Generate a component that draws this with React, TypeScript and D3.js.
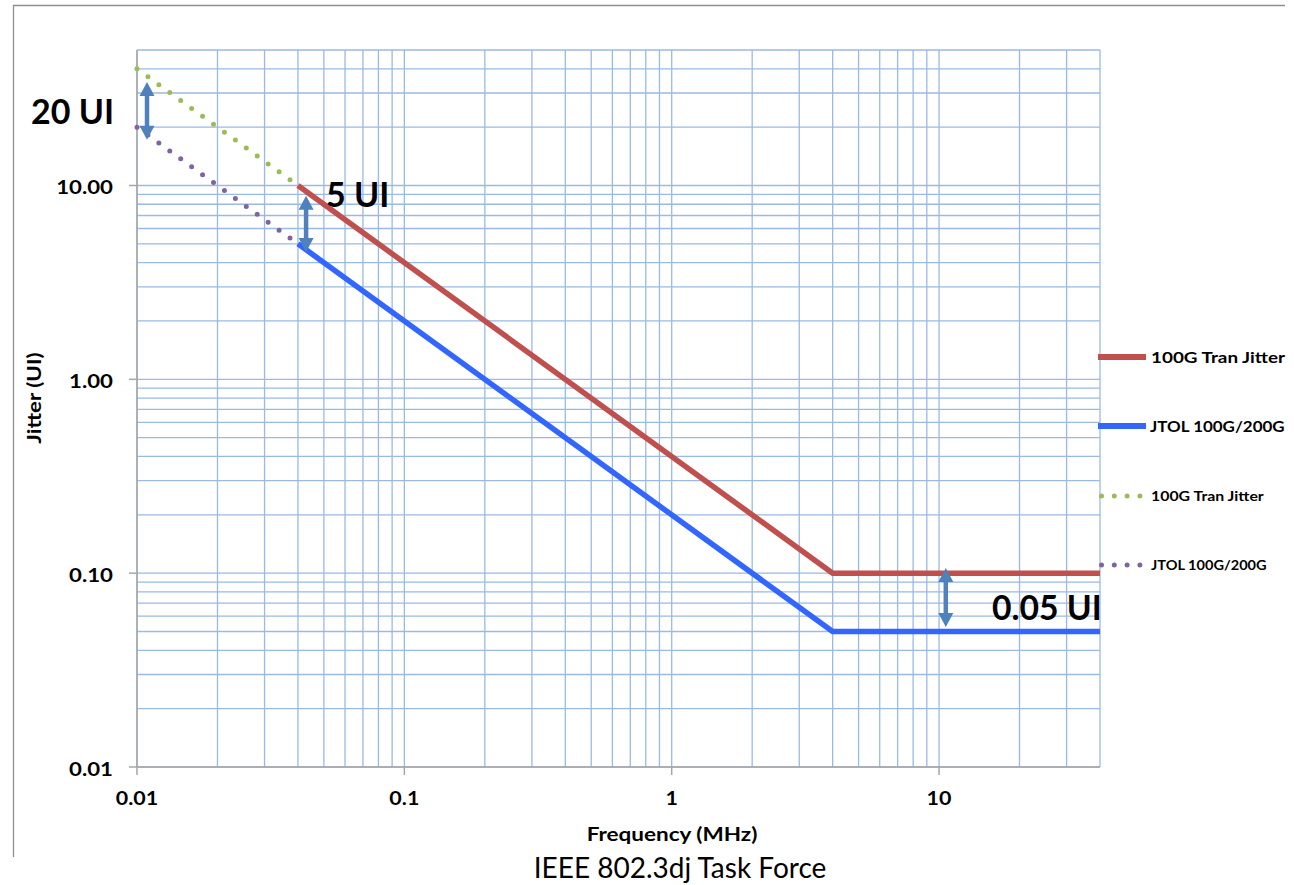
import React from 'react';
import * as d3 from 'd3';

const W = 1294;
const H = 885;

// Data
const tranJitterFreq = [0.04, 4, 40];
const tranJitterUI = [10, 0.1, 0.1];
const jtolFreq = [0.04, 4, 40];
const jtolUI = [5, 0.05, 0.05];
const tranExtFreq = [0.01, 0.04];
const tranExtUI = [40, 10];
const jtolExtFreq = [0.01, 0.04];
const jtolExtUI = [20, 5];

const xTickValues = [0.01, 0.1, 1, 10];
const xTickLabels = ['0.01', '0.1', '1', '10'];
const yTickValues = [0.01, 0.1, 1, 10];
const yTickLabels = ['0.01', '0.10', '1.00', '10.00'];

const xDomain = [0.01, 40];
const yDomain = [0.01, 50];

const legendLabels = ['100G Tran Jitter', 'JTOL 100G/200G', '100G Tran Jitter', 'JTOL 100G/200G'];

// annotation arrows in data coordinates (freq, top UI, bottom UI)
const arrowFreq = [0.0109, 0.0429, 10.6];
const arrowTop = [34.2, 8.84, 0.1063];
const arrowBottom = [17.2, 4.54, 0.0528];
const annoTexts = ['20 UI', '5 UI', '0.05 UI'];

const RED = '#c0504d';
const BLUE = '#3366ff';
const GREEN = '#9bbb59';
const PURPLE = '#8064a2';
const ARROW = '#4f81bd';
const GRID = '#98bae5';
const FONT = 'Lato, "Open Sans", sans-serif';

function arrowPath(x: number, y1: number, y2: number) {
  const shaft = 4.5, headW = 15, headL = 14;
  const p = d3.path();
  p.moveTo(x, y1);
  p.lineTo(x + headW / 2, y1 + headL);
  p.lineTo(x + shaft / 2, y1 + headL);
  p.lineTo(x + shaft / 2, y2 - headL);
  p.lineTo(x + headW / 2, y2 - headL);
  p.lineTo(x, y2);
  p.lineTo(x - headW / 2, y2 - headL);
  p.lineTo(x - shaft / 2, y2 - headL);
  p.lineTo(x - shaft / 2, y1 + headL);
  p.lineTo(x - headW / 2, y1 + headL);
  p.closePath();
  return p.toString();
}

function SText(props: {
  x: number; y: number; sx?: number; rotate?: number; anchor?: string; size: number; bold?: boolean; children: React.ReactNode;
}) {
  const { x, y, sx = 1.2, rotate = 0, anchor = 'start', size, bold = true, children } = props;
  return (
    <text
      transform={`translate(${x},${y}) rotate(${rotate}) scale(${sx},1)`}
      textAnchor={anchor}
      dominantBaseline="central"
      fontSize={size}
      fontWeight={bold ? 'bold' : 'normal'}
      fill="#000"
    >
      {children}
    </text>
  );
}

export default function App() {
  const left = 137, right = 1100, top = 50, bottom = 767;
  const x = d3.scaleLog().domain(xDomain).range([left, right]);
  const y = d3.scaleLog().domain(yDomain).range([bottom, top]);

  const xGrid: number[] = [];
  const yGrid: number[] = [];
  [0.01, 0.1, 1, 10].forEach((d) => {
    for (let k = 1; k <= 9; k++) {
      const v = d * k;
      if (v <= xDomain[1] * 1.0001) xGrid.push(v);
      if (v <= yDomain[1] * 1.0001) yGrid.push(v);
    }
  });

  const line = (fs: number[], vs: number[]) =>
    d3.line<number>().x((_, i) => x(fs[i])).y((v) => y(v))(vs) || '';

  const legendY = [357, 426, 496, 565];

  return (
    <svg width={W} height={H} style={{ position: 'absolute', left: 0, top: 0, background: '#fff' }} fontFamily={FONT}>
      <rect width={W} height={H} fill="#fff" />
      {/* frame */}
      <line x1={13} x2={1285} y1={5.5} y2={5.5} stroke="#8f8f8f" strokeWidth={1.3} />
      <line x1={13.5} x2={13.5} y1={5} y2={857} stroke="#8f8f8f" strokeWidth={1.3} />

      {/* grid */}
      {yGrid.map((v, i) => (
        <line key={'yg' + i} x1={left} x2={right} y1={y(v)} y2={y(v)} stroke={GRID} strokeWidth={1.3} />
      ))}
      {xGrid.map((v, i) => (
        <line key={'xg' + i} x1={x(v)} x2={x(v)} y1={top} y2={bottom} stroke={GRID} strokeWidth={1.3} />
      ))}

      {/* axes */}
      <line x1={left} x2={right} y1={bottom} y2={bottom} stroke="#a6a6a6" strokeWidth={1.5} />
      <line x1={left} x2={left} y1={top} y2={bottom} stroke="#a6a6a6" strokeWidth={1.5} />
      {yTickValues.map((v, i) => (
        <g key={'yt' + i}>
          <line x1={left - 8} x2={left} y1={y(v)} y2={y(v)} stroke="#a6a6a6" strokeWidth={1.5} />
          <SText x={113} y={y(v) + 1} anchor="end" size={19.5} sx={1.14}>
            {yTickLabels[i]}
          </SText>
        </g>
      ))}
      {xTickValues.map((v, i) => (
        <g key={'xt' + i}>
          <line x1={x(v)} x2={x(v)} y1={bottom} y2={bottom + 8} stroke="#a6a6a6" strokeWidth={1.5} />
          <SText x={x(v)} y={798} anchor="middle" size={18.5} sx={1.16}>
            {xTickLabels[i]}
          </SText>
        </g>
      ))}

      {/* axis titles */}
      <SText x={34} y={398} rotate={-90} anchor="middle" size={18} sx={1.24}>
        Jitter (UI)
      </SText>
      <SText x={672} y={834} anchor="middle" size={18} sx={1.25}>
        Frequency (MHz)
      </SText>
      <SText x={680} y={867} anchor="middle" size={28} sx={1.0} bold={false}>
        IEEE 802.3dj Task Force
      </SText>

      {/* series */}
      <path d={line(tranExtFreq, tranExtUI)} fill="none" stroke={GREEN} strokeWidth={5} strokeDasharray="0 13.5" strokeLinecap="round" />
      <path d={line(jtolExtFreq, jtolExtUI)} fill="none" stroke={PURPLE} strokeWidth={5} strokeDasharray="0 13.5" strokeLinecap="round" />
      <path d={line(tranJitterFreq, tranJitterUI)} fill="none" stroke={RED} strokeWidth={5.5} strokeLinejoin="round" />
      <path d={line(jtolFreq, jtolUI)} fill="none" stroke={BLUE} strokeWidth={5.5} strokeLinejoin="round" />

      {/* annotation arrows */}
      {arrowFreq.map((f, i) => (
        <path key={'ar' + i} d={arrowPath(x(f), y(arrowTop[i]), y(arrowBottom[i]))} fill={ARROW} />
      ))}
      <SText x={31} y={110} size={34} sx={1.0}>{annoTexts[0]}</SText>
      <SText x={326} y={193} size={34} sx={1.0}>{annoTexts[1]}</SText>
      <SText x={992} y={607} size={34} sx={0.99}>{annoTexts[2]}</SText>

      {/* legend */}
      <line x1={1098} x2={1146} y1={legendY[0]} y2={legendY[0]} stroke={RED} strokeWidth={6} />
      <line x1={1098} x2={1146} y1={legendY[1]} y2={legendY[1]} stroke={BLUE} strokeWidth={6} />
      <line x1={1101.5} x2={1142} y1={legendY[2]} y2={legendY[2]} stroke={GREEN} strokeWidth={5} strokeDasharray="0 12.8" strokeLinecap="round" />
      <line x1={1101.5} x2={1142} y1={legendY[3]} y2={legendY[3]} stroke={PURPLE} strokeWidth={5} strokeDasharray="0 12.8" strokeLinecap="round" />
      <SText x={1151} y={legendY[0]} size={16} sx={1.18}>{legendLabels[0]}</SText>
      <SText x={1150} y={legendY[1]} size={16} sx={1.06}>{legendLabels[1]}</SText>
      <SText x={1151} y={legendY[2]} size={13} sx={1.22}>{legendLabels[2]}</SText>
      <SText x={1151} y={legendY[3]} size={13} sx={1.12}>{legendLabels[3]}</SText>
    </svg>
  );
}
